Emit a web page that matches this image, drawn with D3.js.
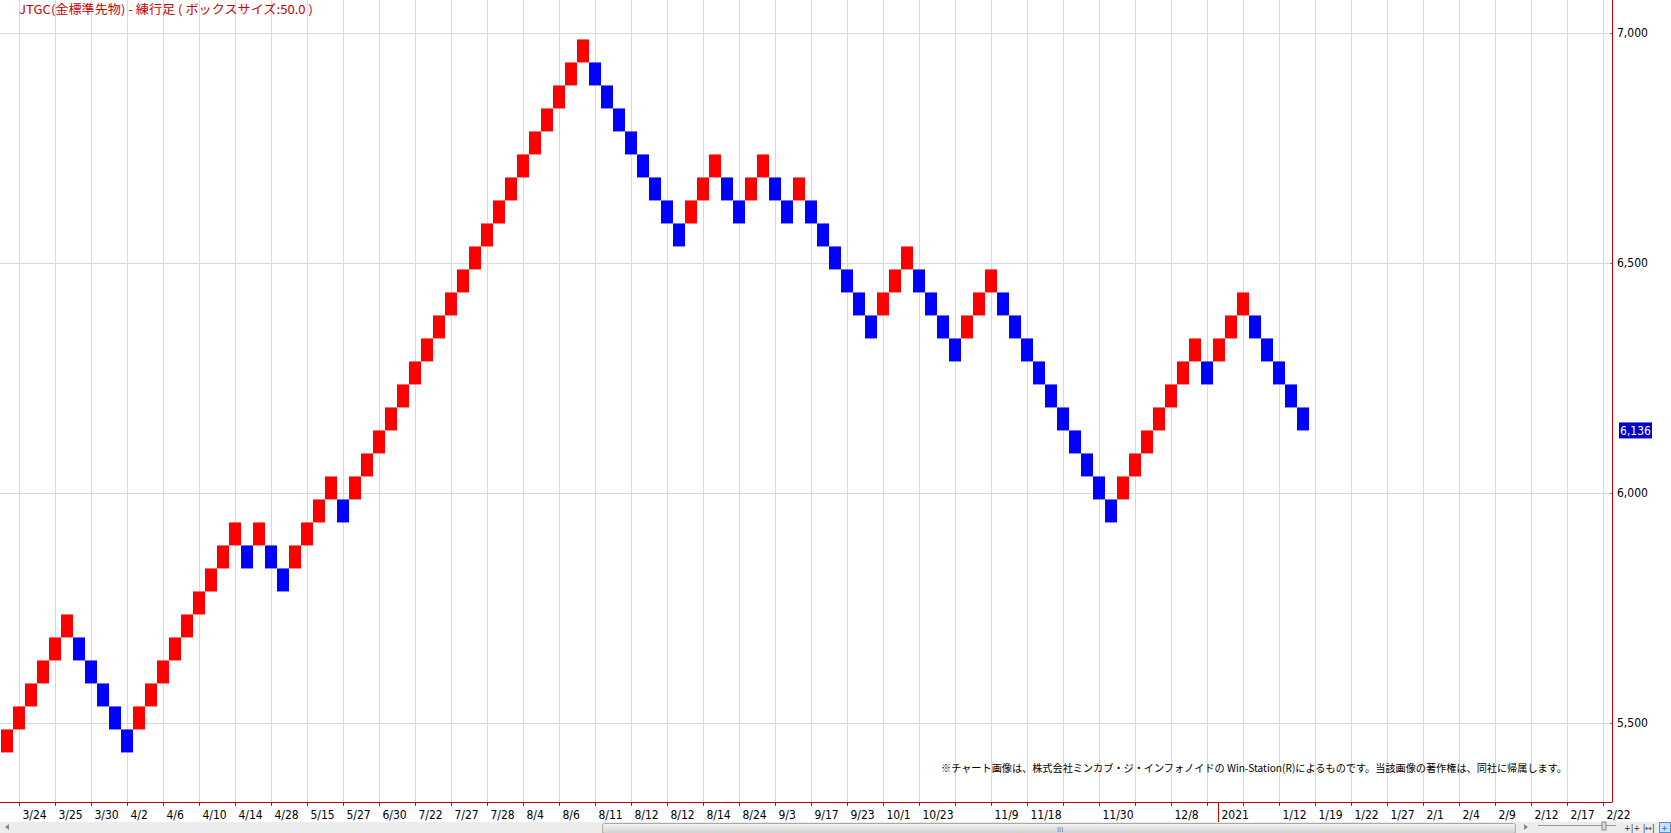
<!DOCTYPE html>
<html>
<head>
<meta charset="utf-8">
<script src="https://cdn.jsdelivr.net/npm/d3@7"></script>
<style>
  body { margin: 0; background: #fff; overflow: hidden; }
  .ticklabel { font-family: "Liberation Sans Narrow", "DejaVu Sans Condensed", "Liberation Mono", monospace; font-size: 12px; fill: #000; }
  .jp { font-family: "Noto Sans CJK JP", sans-serif; }
</style>
</head>
<body>
<script>
// Renko chart JTGC, box size 50

var boxSize = 50;
var lastPrice = 6136;

// bottom price of every brick, left to right
var brickLows = [
  5436, 5486, 5536, 5586, 5636, 5686,
  5636, 5586, 5536, 5486, 5436,
  5486, 5536, 5586, 5636, 5686, 5736, 5786, 5836, 5886,
  5836, 5886, 5836, 5786,
  5836, 5886, 5936, 5986,
  5936,
  5986, 6036, 6086, 6136, 6186, 6236, 6286, 6336, 6386, 6436,
  6486, 6536, 6586, 6636, 6686, 6736, 6786, 6836, 6886, 6936,
  6886, 6836, 6786, 6736, 6686, 6636, 6586, 6536,
  6586, 6636, 6686,
  6636, 6586,
  6636, 6686,
  6636, 6586,
  6636,
  6586, 6536, 6486, 6436, 6386, 6336,
  6386, 6436, 6486,
  6436, 6386, 6336, 6286,
  6336, 6386, 6436,
  6386, 6336, 6286, 6236, 6186, 6136, 6086, 6036, 5986, 5936,
  5986, 6036, 6086, 6136, 6186, 6236, 6286,
  6236,
  6286, 6336, 6386,
  6336, 6286, 6236, 6186, 6136
];

// date labels, one every 3 bricks ("" = no label)
var dateLabels = [
  "3/24", "3/25", "3/30", "4/2", "4/6", "4/10", "4/14", "4/28", "5/15", "5/27",
  "6/30", "7/22", "7/27", "7/28", "8/4", "8/6", "8/11", "8/12", "8/12", "8/14",
  "8/24", "9/3", "9/17", "9/23", "10/1", "10/23", "", "11/9", "11/18", "",
  "11/30", "", "12/8", "", "", "1/12", "1/19", "1/22", "1/27", "2/1",
  "2/4", "2/9", "2/12", "2/17", "2/22"
];

var yTicks = [5500, 6000, 6500, 7000];
var yearCol = 101;
var yearLabel = "2021";

var width = 1671;
var height = 833;
var plotRight = 1612;
var plotBottom = 802;

var svg = d3.select("body").append("svg")
  .attr("width", width)
  .attr("height", height);

var xScale = d3.scaleLinear()
  .domain([0, 133])
  .range([7, 1603]);

var yScale = d3.scaleLinear()
  .domain([5500, 7000])
  .range([723, 33]);

var tickCols = dateLabels.map(function(d, i) { return 1 + 3 * i; });

// grid
svg.selectAll(".vgrid")
  .data(tickCols)
  .enter()
  .append("line")
  .attr("x1", function(d) { return Math.round(xScale(d)) + 0.5; })
  .attr("x2", function(d) { return Math.round(xScale(d)) + 0.5; })
  .attr("y1", 0)
  .attr("y2", plotBottom)
  .style("stroke", "#d9d9dd");

svg.selectAll(".hgrid")
  .data(yTicks)
  .enter()
  .append("line")
  .attr("x1", 0)
  .attr("x2", plotRight)
  .attr("y1", function(d) { return Math.round(yScale(d)) + 0.5; })
  .attr("y2", function(d) { return Math.round(yScale(d)) + 0.5; })
  .style("stroke", "#d9d9d9");

// bricks
svg.selectAll(".brick")
  .data(brickLows)
  .enter()
  .append("rect")
  .attr("x", function(d, i) { return xScale(i) - 6; })
  .attr("width", 12)
  .attr("y", function(d) { return yScale(d + boxSize); })
  .attr("height", function(d) { return yScale(d) - yScale(d + boxSize); })
  .style("fill", function(d, i) {
    if (i == 0 || d > brickLows[i - 1]) {
      return "#ff0000";
    }
    return "#0000ff";
  });

// x axis
var xAxis = d3.axisBottom(xScale)
  .tickValues(tickCols)
  .tickFormat(function(d, i) { return dateLabels[i]; })
  .tickSize(4)
  .tickSizeOuter(0);

var gx = svg.append("g")
  .attr("transform", "translate(0," + plotBottom + ")")
  .call(xAxis);
gx.select(".domain").remove();
gx.selectAll(".tick line").style("stroke", "#a02020");
gx.selectAll(".tick text")
  .attr("class", "ticklabel")
  .attr("x", 3)
  .attr("y", 17)
  .attr("dy", null)
  .style("text-anchor", "start");

// y axis
var yAxis = d3.axisRight(yScale)
  .tickValues(yTicks)
  .tickFormat(d3.format(","))
  .tickSize(3)
  .tickSizeOuter(0);

var gy = svg.append("g")
  .attr("transform", "translate(" + (plotRight - 2) + ",0)")
  .call(yAxis);
gy.select(".domain").remove();
gy.selectAll(".tick line").style("stroke", "#808080");
gy.selectAll(".tick text")
  .attr("class", "ticklabel")
  .attr("x", 7);

// axis lines
svg.append("line")
  .attr("x1", 0).attr("x2", plotRight + 0.5)
  .attr("y1", plotBottom + 0.5).attr("y2", plotBottom + 0.5)
  .style("stroke", "#c00000");
svg.append("line")
  .attr("x1", plotRight + 0.5).attr("x2", plotRight + 0.5)
  .attr("y1", 0).attr("y2", plotBottom)
  .style("stroke", "#c00000");

// year separator
var yx = Math.round(xScale(yearCol)) - 0.5;
svg.append("line")
  .attr("x1", yx).attr("x2", yx)
  .attr("y1", plotBottom).attr("y2", 822)
  .style("stroke", "#c00000");
svg.append("text")
  .attr("class", "ticklabel")
  .attr("x", yx + 3)
  .attr("y", 819)
  .text(yearLabel);

// last price marker
svg.append("rect")
  .attr("x", 1619)
  .attr("y", yScale(lastPrice) - 8)
  .attr("width", 33)
  .attr("height", 16)
  .style("fill", "#0000cc");
svg.append("text")
  .attr("class", "ticklabel")
  .attr("x", 1635.5)
  .attr("y", yScale(lastPrice) + 4.5)
  .style("text-anchor", "middle")
  .style("fill", "#fff")
  .text(d3.format(",")(lastPrice));

// title
svg.append("text")
  .attr("class", "jp")
  .attr("x", 19)
  .attr("y", 14)
  .attr("textLength", 294)
  .attr("lengthAdjust", "spacingAndGlyphs")
  .style("font-size", "12px")
  .style("fill", "#c80000")
  .text("JTGC(金標準先物) - 練行足 ( ボックスサイズ:50.0 )");

// copyright note
svg.append("text")
  .attr("class", "jp")
  .attr("x", 941)
  .attr("y", 772)
  .attr("textLength", 626)
  .attr("lengthAdjust", "spacingAndGlyphs")
  .style("font-size", "10.5px")
  .style("fill", "#000")
  .text("※チャート画像は、株式会社ミンカブ・ジ・インフォノイドの Win-Station(R)によるものです。当該画像の著作権は、同社に帰属します。");

// scroll bar
var defs = svg.append("defs");
var grad = defs.append("linearGradient")
  .attr("id", "thumb")
  .attr("x1", 0).attr("x2", 0).attr("y1", 0).attr("y2", 1);
grad.append("stop").attr("offset", "0%").attr("stop-color", "#f6f6f6");
grad.append("stop").attr("offset", "100%").attr("stop-color", "#cfcfcf");

svg.append("rect")
  .attr("x", 0).attr("y", 822)
  .attr("width", width).attr("height", 11)
  .style("fill", "#ececec");
svg.append("rect")
  .attr("x", 602.5).attr("y", 823.5)
  .attr("width", 913).attr("height", 10)
  .attr("rx", 2)
  .style("fill", "url(#thumb)")
  .style("stroke", "#a8a8a8");
svg.append("text")
  .attr("x", 1057).attr("y", 832)
  .style("font-family", "DejaVu Sans")
  .style("font-size", "7px")
  .style("fill", "#777")
  .text("III");
svg.append("path")
  .attr("d", "M5,827 L9,824 L9,830 Z")
  .style("fill", "#888");
svg.append("path")
  .attr("d", "M1524,824 L1528,827 L1524,830 Z")
  .style("fill", "#888");

// zoom slider
svg.append("line")
  .attr("x1", 1538).attr("x2", 1616)
  .attr("y1", 825.5).attr("y2", 825.5)
  .style("stroke", "#999");
svg.append("rect")
  .attr("x", 1602).attr("y", 822)
  .attr("width", 4).attr("height", 8)
  .style("fill", "#ddd")
  .style("stroke", "#888");

// tool icons
svg.append("text")
  .attr("x", 1624).attr("y", 831)
  .style("font-family", "DejaVu Sans")
  .style("font-size", "8px")
  .style("fill", "#333")
  .text("+|+ |↔|");
svg.append("rect")
  .attr("x", 1659.5).attr("y", 822.5)
  .attr("width", 11).attr("height", 10)
  .style("fill", "#cfe0f5")
  .style("stroke", "#5a8ac8");
svg.append("text")
  .attr("x", 1661).attr("y", 831)
  .style("font-family", "DejaVu Sans")
  .style("font-size", "8px")
  .style("fill", "#1e6ec8")
  .text("+");
</script>
</body>
</html>
